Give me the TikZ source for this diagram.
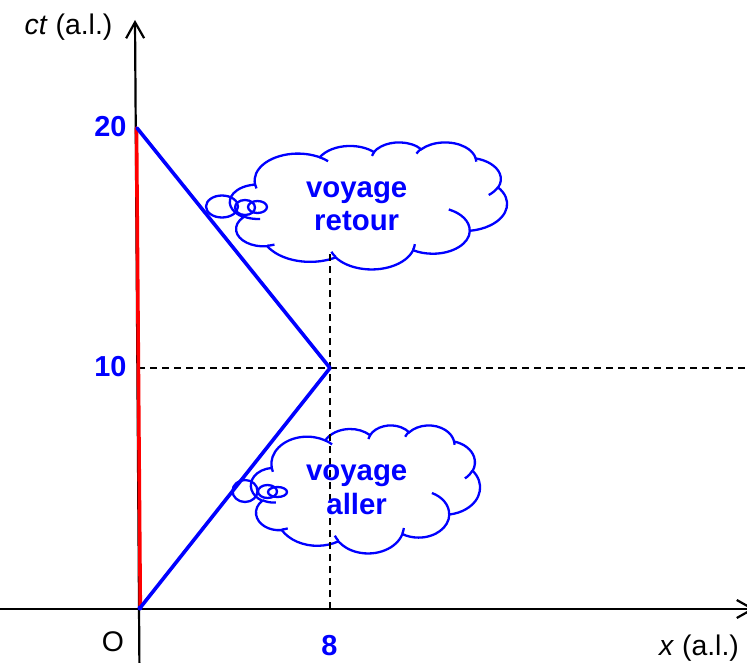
\documentclass[tikz,border=0pt]{standalone}
\usepackage{fontspec}
\setmainfont{Liberation Sans}
\usetikzlibrary{arrows.meta}
\definecolor{pblue}{RGB}{0,0,255}
\definecolor{pred}{RGB}{255,0,0}

% arc of a DrawingML ellipse: wR, hR, start angle, sweep angle (visual angles, degrees)
\newcommand\pptarc[4]{%
  \pgfmathsetmacro\pptA{#3}%
  \pgfmathsetmacro\pptB{#3+#4}%
  \pgfmathsetmacro\pptTa{atan2((#1)*sin(\pptA),(#2)*cos(\pptA))}%
  \pgfmathsetmacro\pptTa{\pptTa-360*round((\pptTa-(\pptA))/360)}%
  \pgfmathsetmacro\pptTb{atan2((#1)*sin(\pptB),(#2)*cos(\pptB))}%
  \pgfmathsetmacro\pptTb{\pptTb-360*round((\pptTb-(\pptB))/360)}%
  \pgfpatharcaxes{\pptTa}{\pptTb}{\pgfpointxy{#1}{0}}{\pgfpointxy{0}{#2}}%
}
% PowerPoint-like cloud: top-left x, y, width, height
\newcommand\pptcloud[4]{%
  \pgfmathsetmacro\pptsx{#3/432}%
  \pgfmathsetmacro\pptsy{#4/432}%
  \begin{scope}[shift={(#1,#2)}, x=\pptsx bp, y=-\pptsy bp, color=pblue, line width=2.3bp]
    \pgfpathmoveto{\pgfpointxy{39}{143.7}}%
    \pptarc{67.53}{91.90}{-190.4875}{123.7805}%
    \pptarc{53.33}{72.67}{-144.1024}{89.9452}%
    \pptarc{43.65}{59.45}{-145.8079}{99.7230}%
    \pptarc{48.57}{65.95}{-130.9861}{117.2417}%
    \pptarc{53.33}{72.73}{-78.7089}{109.0269}%
    \pptarc{67.75}{92.20}{-46.2673}{130.2690}%
    \pptarc{57.85}{78.67}{0.6250}{114.0333}%
    \pptarc{67.52}{92.15}{22.4516}{115.1726}%
    \pptarc{77.20}{105.43}{66.2426}{75.7110}%
    \pptarc{43.60}{59.18}{-274.9421}{146.7356}%
    \pptarc{43.45}{59.45}{-246.8285}{152.5189}%
    \pgfpathclose
    \pgfusepath{stroke}%
    \pgfpathmoveto{\pgfpointxy{46.93}{261.77}}\pptarc{43.45}{59.45}{86.742}{26.4295}%
    \pgfpathmoveto{\pgfpointxy{69.28}{348.99}}\pptarc{43.60}{59.18}{73.6105}{11.4475}%
    \pgfpathmoveto{\pgfpointxy{164.78}{390.90}}\pptarc{67.52}{92.15}{137.6242}{14.0811}%
    \pgfpathmoveto{\pgfpointxy{288.27}{347.51}}\pptarc{67.52}{92.15}{6.4533}{15.9984}%
    \pgfpathmoveto{\pgfpointxy{341.29}{229.54}}\pptarc{57.85}{78.67}{-70.2924}{70.9174}%
    \pgfpathmoveto{\pgfpointxy{417.98}{153.54}}\pptarc{53.33}{72.73}{30.3180}{27.7515}%
    \pgfpathmoveto{\pgfpointxy{383.24}{54.26}}\pptarc{48.57}{65.95}{-13.7443}{14.8589}%
    \pgfpathmoveto{\pgfpointxy{290.78}{39.52}}\pptarc{48.57}{65.95}{-149.1815}{18.1954}%
    \pgfpathmoveto{\pgfpointxy{221.41}{47.20}}\pptarc{43.65}{59.45}{-163.4943}{17.6864}%
    \pgfpathmoveto{\pgfpointxy{140.00}{51.92}}\pptarc{67.53}{91.90}{-66.7070}{12.3194}%
    \pgfpathmoveto{\pgfpointxy{41.27}{157.89}}\pptarc{67.53}{91.90}{157.6544}{11.8582}%
    \pgfusepath{stroke}%
  \end{scope}}

\tikzset{
  axisline/.style={line width=2.2bp, black, -{Straight Barb[length=16bp,width=18bp]}},
  worldline/.style={line width=3.6bp, line cap=round, line join=round},
  guide/.style={line width=1.6bp, black, dash pattern=on 7bp off 5bp},
  bubble/.style={line width=2.3bp, pblue},
  blacklbl/.style={font=\fontsize{28.5}{33}\selectfont, text=black, inner sep=0pt},
  numlbl/.style={font=\fontsize{29}{34}\selectfont\bfseries, text=pblue, inner sep=0pt},
  cloudtxt/.style={font=\fontsize{29.5}{34}\selectfont\bfseries, text=pblue, inner sep=0pt},
}

\begin{document}
\begin{tikzpicture}[x=1bp, y=-1bp]
  \useasboundingbox (0,0) rectangle (747,663);
  \clip (0,0) rectangle (747,663);

  % named points
  \coordinate (O) at (140,608);
  \coordinate (A) at (330,368);
  \coordinate (T) at (137,128);
  \coordinate (Ry) at (136.5,128);
  \coordinate (Ro) at (140.3,608);
  \coordinate (xs) at (0,609);
  \coordinate (xe) at (755,609);
  \coordinate (ys) at (139.4,663);
  \coordinate (ye) at (135,20);
  \coordinate (H1) at (138,368);
  \coordinate (H2) at (747,368);
  \coordinate (V1) at (330,609);
  \coordinate (V2) at (330,250);

  % clouds
  \pptcloud{230}{142}{277}{127}
  \pptcloud{251}{425}{229}{128}
  \draw[bubble] (222,206.5) ellipse [x radius=16, y radius=11];
  \draw[bubble] (245,207.5) ellipse [x radius=10, y radius=7.5];
  \draw[bubble] (257.5,207) ellipse [x radius=9.5, y radius=6];
  \draw[bubble] (245,491) ellipse [x radius=12.5, y radius=11];
  \draw[bubble] (267.5,491.5) ellipse [x radius=9.5, y radius=6.5];
  \draw[bubble] (277.5,492) ellipse [x radius=9.5, y radius=5];

  % guides
  \draw[guide] (H1) -- (H2);
  \draw[guide] (V1) -- (V2);

  % axes
  \draw[axisline] (xs) -- (xe);
  \draw[axisline] (ys) -- (ye);

  % world lines
  \draw[worldline, pred] (Ro) -- (Ry);
  \draw[worldline, pblue] (O) -- (A) -- (T);
  \fill[pblue] (O) circle (2.5);

  % labels
  \node[blacklbl, anchor=base] (ctlbl) at (68.5,35) {\textit{ct} (a.l.)};
  \node[blacklbl, anchor=base] (xlbl) at (699,655) {\textit{x} (a.l.)};
  \node[blacklbl, anchor=base] (Olbl) at (113,651) {O};
  \node[numlbl, anchor=base] (n8) at (329.5,655) {8};
  \node[numlbl, anchor=base] (n20) at (110.5,137) {20};
  \node[numlbl, anchor=base] (n10) at (110.5,376) {10};
  \node[cloudtxt, anchor=base] (v1) at (356.7,197) {voyage};
  \node[cloudtxt, anchor=base] (r1) at (356.7,230) {retour};
  \node[cloudtxt, anchor=base] (v2) at (356.7,480) {voyage};
  \node[cloudtxt, anchor=base] (a2) at (356.7,514) {aller};
\end{tikzpicture}
\end{document}
